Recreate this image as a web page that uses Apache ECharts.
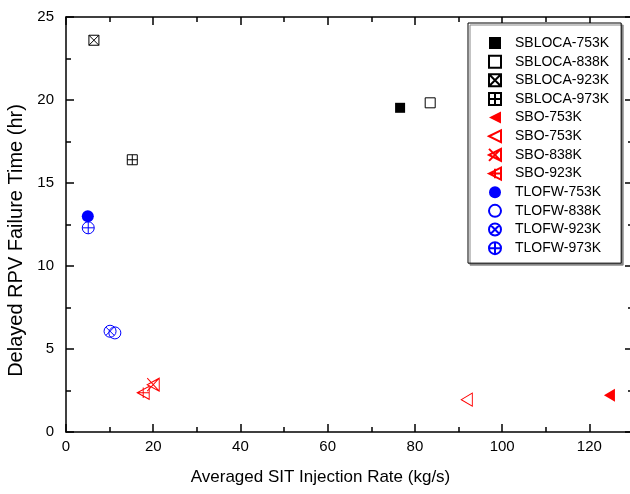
<!DOCTYPE html>
<html>
<head>
<meta charset="utf-8">
<script src="https://cdn.jsdelivr.net/npm/echarts@6/dist/echarts.min.js"></script>
<style>html,body{margin:0;padding:0;background:#fff}#c{width:630px;height:494px}</style>
</head>
<body>
<div id="c"></div>
<script>
// ---- data ----
var xTitle = 'Averaged SIT Injection Rate (kg/s)';
var yTitle = 'Delayed RPV Failure Time (hr)';
var sbloca753 = [[76.6, 19.53]];
var sbloca838 = [[83.5, 19.83]];
var sbloca923 = [[6.4, 23.6]];
var sbloca973 = [[15.2, 16.4]];
var sbo753a = [[124.6, 2.22]];
var sbo753b = [[91.9, 1.95]];
var sbo838 = [[20.0, 2.85]];
var sbo923 = [[17.7, 2.36]];
var tlofw753 = [[5.0, 13.0]];
var tlofw838 = [[11.2, 5.97]];
var tlofw923 = [[10.1, 6.07]];
var tlofw973 = [[5.1, 12.3]];

var FONT = '"Liberation Sans", Arial, sans-serif';
var SQ_X = 'path://M0,0H10V10H0Z M0,0L10,10 M10,0L0,10';
var SQ_P = 'path://M0,0H10V10H0Z M5,0V10 M0,5H10';
var TRI = 'path://M0,5L10,0L10,10Z';
var TRI_X = 'path://M0,5L10,0L10,10Z M0,0L10,10 M0,10L10,0';
var TRI_P = 'path://M0,5L10,0L10,10Z M0,5H10 M5,1V9';
var CIR_X = 'path://M0,5A5,5 0 1 1 10,5A5,5 0 1 1 0,5Z M1.5,1.5L8.5,8.5 M8.5,1.5L1.5,8.5';
var CIR_P = 'path://M0,5A5,5 0 1 1 10,5A5,5 0 1 1 0,5Z M5,0V10 M0,5H10';

function s(name, data, symbol, size, color, filled) {
  return {
    name: name, type: 'scatter', data: data, symbol: symbol, symbolSize: size,
    xAxisIndex: 0, yAxisIndex: 0,
    itemStyle: filled ? {color: color, opacity: 1} : {color: 'rgba(255,255,255,0)', borderColor: color, borderWidth: 1, opacity: 1},
    emphasis: {disabled: true}
  };
}
var RED = '#ff0000', BLUE = '#0000ff', BLK = '#000000';
var series = [
  s('SBLOCA-753K', sbloca753, 'rect', 10, BLK, true),
  s('SBLOCA-838K', sbloca838, 'rect', 10, BLK, false),
  s('SBLOCA-923K', sbloca923, SQ_X, 10, BLK, false),
  s('SBLOCA-973K', sbloca973, SQ_P, 10, BLK, false),
  s('SBO-753K', sbo753a, TRI, [11, 13], RED, true),
  s('SBO-753K ', sbo753b, TRI, [11, 13], RED, false),
  s('SBO-838K', sbo838, TRI_X, [12, 13], RED, false),
  s('SBO-923K', sbo923, TRI_P, [12, 13], RED, false),
  s('TLOFW-753K', tlofw753, 'circle', 12, BLUE, true),
  s('TLOFW-838K', tlofw838, 'circle', 12, BLUE, false),
  s('TLOFW-923K', tlofw923, CIR_X, 12, BLUE, false),
  s('TLOFW-973K', tlofw973, CIR_P, 12, BLUE, false)
];

var axisLine = {show: true, onZero: false, lineStyle: {color: '#000', width: 1.5}};
function xAx(pos, labels) {
  return {
    type: 'value', position: pos, min: 0, max: 130, interval: 20,
    name: labels ? xTitle : '', nameLocation: 'middle', nameGap: 37,
    nameTextStyle: {fontFamily: FONT, fontSize: 17, color: '#000', padding: [0, 58, 0, 0]},
    axisLine: axisLine,
    axisTick: {show: true, inside: true, length: 8, lineStyle: {color: '#000', width: 1.5}},
    minorTick: {show: true, splitNumber: 2, length: 5, lineStyle: {color: '#000', width: 1.5}},
    axisLabel: {show: labels, showMaxLabel: false, fontFamily: FONT, fontSize: 15, color: '#000', margin: 7},
    splitLine: {show: false}
  };
}
function yAx(pos, labels) {
  return {
    type: 'value', position: pos, min: 0, max: 25, interval: 5,
    name: labels ? yTitle : '', nameLocation: 'middle', nameGap: 38,
    nameTextStyle: {fontFamily: FONT, fontSize: 20, color: '#000', padding: [0, 32, 0, 0]},
    axisLine: axisLine,
    axisTick: {show: true, inside: true, length: 8, lineStyle: {color: '#000', width: 1.5}},
    minorTick: {show: true, splitNumber: 2, length: 5, lineStyle: {color: '#000', width: 1.5}},
    axisLabel: {show: labels, fontFamily: FONT, fontSize: 15, color: '#000', margin: 12},
    splitLine: {show: false}
  };
}

var chart = echarts.init(document.getElementById('c'), null, {renderer: 'canvas'});
chart.setOption({
  animation: false,
  backgroundColor: '#fff',
  grid: {left: 66, right: -3, top: 17, bottom: 62, containLabel: false, outerBoundsMode: 'none'},
  xAxis: [xAx('bottom', true), xAx('top', false)],
  yAxis: [yAx('left', true), yAx('right', false)],
  legend: {
    orient: 'vertical', left: 468, top: 23,
    padding: [13, 12, 8, 20], itemGap: 4.65, itemWidth: 12, itemHeight: 12,
    backgroundColor: '#fff', borderColor: '#000', borderWidth: 1,
    shadowColor: '#888', shadowOffsetX: 2, shadowOffsetY: 2, shadowBlur: 0,
    textStyle: {fontFamily: FONT, fontSize: 14, color: '#000', lineHeight: 14, padding: [0, 0, 0, 9]},
    formatter: function (n) { return n.trim(); },
    selectedMode: false,
    data: series.map(function (x) { return x.name; })
  },
  series: series
});
</script>
</body>
</html>
